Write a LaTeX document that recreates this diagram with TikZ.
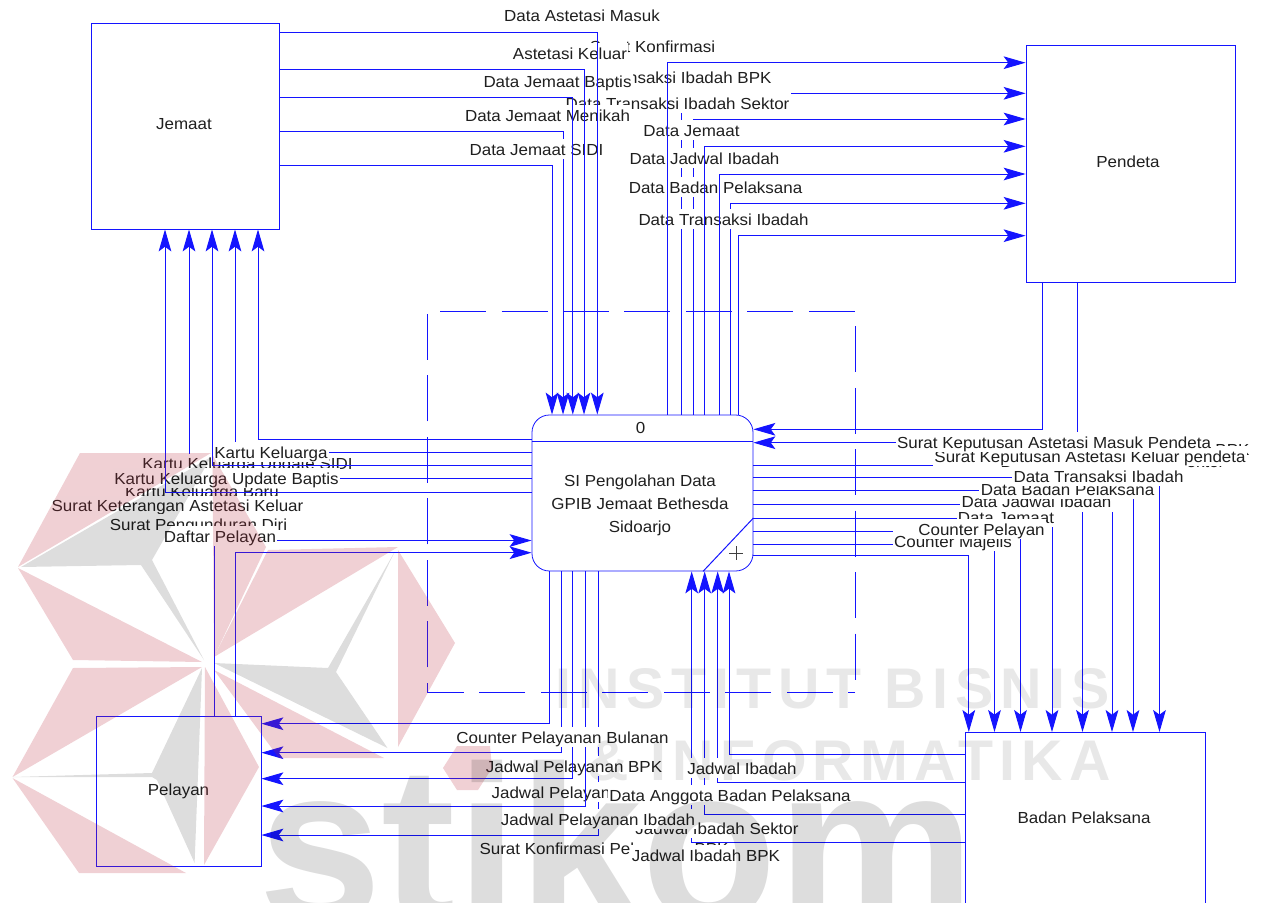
\documentclass[tikz,border=0pt]{standalone}
\usepackage{fontspec}
\usetikzlibrary{arrows.meta}
\setmainfont[FakeStretch=1.06]{Liberation Sans}
\newfontfamily\wmfont{Liberation Sans}
\definecolor{flowblue}{RGB}{20,20,255}
\definecolor{wmpink}{RGB}{185,41,60}
\tikzset{
  x=0.75pt,y=-0.75pt,
  every node/.style={font=\fontsize{12pt}{17pt}\selectfont,text=black!88},
  entity/.style={draw=flowblue,line width=0.6pt,fill=white,inner sep=0pt,align=center},
  flow/.style={draw=flowblue,line width=0.75pt,-{Stealth[length=16.5pt,width=9.5pt,inset=3.5pt]}},
  lab/.style={fill=white,inner xsep=1pt,inner ysep=2.1pt,text height=10pt,text depth=0.8pt},
  pinkpart/.style={fill=wmpink,opacity=0.22},
  graypart/.style={fill=black,opacity=0.135},
  wmtext/.style={text=black,opacity=0.09,inner sep=0pt,anchor=base}
}
\begin{document}
\begin{tikzpicture}
\useasboundingbox (0,0) rectangle (1264,903);
% dashed boundary
\draw[draw=flowblue,line width=0.75pt,dash pattern=on 34.5pt off 11.6pt,dash phase=29.25pt]
  (855,692.5) -- (427.5,692.5) -- (427.5,311) -- (855,311) -- cycle;
% entities
\node[entity,minimum width=141pt,minimum height=154.5pt] (jemaat) at (185,126) {};
\node[inner sep=0pt] (jemaattxt) at (184,124.5) {Jemaat};
\node[entity,minimum width=156.75pt,minimum height=177.75pt] (pendeta) at (1130.5,163.5) {};
\node[inner sep=0pt] (pendetatxt) at (1128,161.5) {Pendeta};
\node[entity,minimum width=123.75pt,minimum height=112.5pt] (pelayan) at (178.5,791.7) {};
\node[inner sep=0pt] (pelayantxt) at (178.5,791) {Pelayan};
\node[entity,minimum width=179.5pt,minimum height=129.4pt] (badan) at (1085.5,818.7) {};
\node[inner sep=0pt] (badantxt) at (1084,817.5) {Badan Pelaksana};
\node[entity,rounded corners=13pt,minimum width=165.75pt,minimum height=117pt] (proc) at (642.5,493) {};
\draw[draw=flowblue,line width=0.75pt] (proc.west |- 0,441) -- (proc.east |- 0,441);
\draw[draw=flowblue,line width=0.75pt] (proc.east |- 0,518) -- (703,0 |- proc.south);
\node[inner sep=0pt] (pnum) at (640.6,427.5) {0};
\node[inner sep=0pt,align=center] (ptxt) at (640,505.5) {SI Pengolahan Data\\GPIB Jemaat Bethesda\\Sidoarjo};
\draw[draw=black!75,line width=0.75pt] (729,553) -- (743,553) (736,546) -- (736,560);
% ---- connectors beneath the labels
\draw[flow] (jemaat.east |- 0,131) -| (563,0 |- proc.north);
\draw[flow] (jemaat.east |- 0,165) -| (552,0 |- proc.north);
\draw[flow] (681.7,0 |- proc.north) |- (pendeta.west |- 0,93.3);
\draw[flow] (693,0 |- proc.north) |- (pendeta.west |- 0,119);
\draw[flow] (730.7,0 |- proc.north) |- (pendeta.west |- 0,203.3);
\draw[flow] (738.7,0 |- proc.north) |- (pendeta.west |- 0,235.7);
\draw[flow] (1042.3,0 |- pendeta.south) |- (proc.east |- 0,429.3);
\draw[flow] (1077.8,0 |- pendeta.south) |- (proc.east |- 0,442.7);
\draw[flow] (proc.east |- 0,465.3) -| (1159.5,0 |- badan.north);
\draw[flow] (proc.east |- 0,477.3) -| (1133,0 |- badan.north);
\draw[flow] (proc.east |- 0,490.7) -| (1112,0 |- badan.north);
\draw[flow] (proc.east |- 0,504.7) -| (1082.5,0 |- badan.north);
\draw[flow] (proc.east |- 0,518) -| (1052,0 |- badan.north);
\draw[flow] (proc.east |- 0,531.7) -| (1020.5,0 |- badan.north);
\draw[flow] (proc.east |- 0,544) -| (994.5,0 |- badan.north);
\draw[flow] (proc.east |- 0,555.7) -| (968.8,0 |- badan.north);
\draw[flow] (proc.west |- 0,439) -| (258,0 |- jemaat.south);
\draw[flow] (proc.west |- 0,452) -| (235,0 |- jemaat.south);
\draw[flow] (proc.west |- 0,478.5) -| (189,0 |- jemaat.south);
\draw[flow] (214,0 |- pelayan.north) |- (proc.west |- 0,540.5);
\draw[flow] (235,0 |- pelayan.north) |- (proc.west |- 0,552.7);
\draw[flow] (549.8,0 |- proc.south) |- (pelayan.east |- 0,723.7);
\draw[flow] (561.3,0 |- proc.south) |- (pelayan.east |- 0,752.7);
\draw[flow] (598.7,0 |- proc.south) |- (pelayan.east |- 0,835);
\node[lab,anchor=west] (l33) at (478,848) {Surat Konfirmasi Pelayanan BPK};
\draw[flow] (badan.west |- 0,842.3) -| (691.7,0 |- proc.south);
\draw[flow] (badan.west |- 0,814.7) -| (704.7,0 |- proc.south);
\draw[flow] (badan.west |- 0,782) -| (717.7,0 |- proc.south);
\draw[flow] (badan.west |- 0,754.5) -| (729,0 |- proc.south);
% ---- labels, later over earlier
\node[lab] (l01) at (582,15) {Data Astetasi Masuk};
\node[lab] (l02) at (652.5,46) {Surat Konfirmasi};
\node[lab] (l03) at (570,53) {Astetasi Keluar};
\node[lab,anchor=east] (l04) at (773,77) {Data Transaksi Ibadah BPK};
\node[lab] (l05) at (557.5,81) {Data Jemaat Baptis};
\node[lab] (l06) at (677.5,103) {Data Transaksi Ibadah Sektor};
\node[lab] (l07) at (547.5,115) {Data Jemaat Menikah};
\node[lab] (l08) at (691.5,130) {Data Jemaat};
\node[lab] (l09) at (536.5,149) {Data Jemaat SIDI};
\node[lab] (l10) at (704.5,158) {Data Jadwal Ibadah};
\node[lab] (l11) at (715.5,187) {Data Badan Pelaksana};
\node[lab] (l12) at (723.5,219) {Data Transaksi Ibadah};
% left
\node[lab] (l13) at (247.5,463.5) {Kartu Keluarga Update SIDI};
\node[lab] (l14) at (271,452) {Kartu Keluarga};
\node[lab] (l15) at (202,491) {Kartu Keluarga Baru};
\node[lab] (l16) at (226.5,478) {Kartu Keluarga Update Baptis};
\node[lab] (l17) at (177.5,505.5) {Surat Keterangan Astetasi Keluar};
\node[lab] (l18) at (198.5,524) {Surat Pengunduran Diri};
\node[lab] (l19) at (220,536) {Daftar Pelayan};
% right
\node[lab,anchor=east] (l20) at (1251,449) {Data Transaksi Ibadah BPK};
\node[lab,anchor=east] (l21) at (1226,461) {Data Transaksi Ibadah Sektor};
\node[lab] (l22) at (953,541) {Counter Majelis};
\node[lab] (l23) at (1006,517) {Data Jemaat};
\node[lab] (l24) at (981.5,529) {Counter Pelayan};
\node[lab] (l25) at (1036.5,501.5) {Data Jadwal Ibadah};
\node[lab] (l26) at (1067.5,489) {Data Badan Pelaksana};
\node[lab] (l27) at (1098.5,476) {Data Transaksi Ibadah};
\node[lab] (l28) at (1090,456) {Surat Keputusan Astetasi Keluar pendeta};
\node[lab] (l29) at (1054,442) {Surat Keputusan Astetasi Masuk Pendeta};
% bottom
\node[lab] (l30) at (574,766) {Jadwal Pelayanan BPK};
\node[lab,anchor=west] (l31) at (490,792) {Jadwal Pelayanan Sektor};
\node[lab] (l34) at (742,768) {Jadwal Ibadah};
\node[lab] (l35) at (730,795) {Data Anggota Badan Pelaksana};
\node[lab] (l36) at (717,828) {Jadwal Ibadah Sektor};
\node[lab] (l32) at (598,819) {Jadwal Pelayanan Ibadah};
\node[lab] (l37) at (706,855) {Jadwal Ibadah BPK};
% ---- connectors over the first labels
\draw[flow] (572.8,0 |- proc.south) |- (pelayan.east |- 0,778.7);
\draw[flow] (585.8,0 |- proc.south) |- (pelayan.east |- 0,806);
\node[lab] (l38) at (562.5,737) {Counter Pelayanan Bulanan};
\draw[flow] (jemaat.east |- 0,32) -| (597.3,0 |- proc.north);
\draw[flow] (jemaat.east |- 0,69.5) -| (584,0 |- proc.north);
\draw[flow] (jemaat.east |- 0,97) -| (572.8,0 |- proc.north);
\draw[flow] (667,0 |- proc.north) |- (pendeta.west |- 0,62.7);
\draw[flow] (704.4,0 |- proc.north) |- (pendeta.west |- 0,146.3);
\draw[flow] (719.4,0 |- proc.north) |- (pendeta.west |- 0,174);
\draw[flow] (proc.west |- 0,465.3) -| (212,0 |- jemaat.south);
\draw[flow] (proc.west |- 0,492) -| (165,0 |- jemaat.south);
% ---- watermark, lying over everything
\fill[pinkpart] (18,567) -- (80,453) -- (211,453) -- cycle;
\fill[pinkpart] (18,568) -- (73,660) -- (202,662) -- cycle;
\fill[pinkpart] (212.5,455) -- (266,547) -- (214,657) -- cycle;
\fill[pinkpart] (268,550) -- (398,547) -- (214,657) -- cycle;
\fill[pinkpart] (398,550) -- (455,643) -- (398,747) -- cycle;
\fill[pinkpart] (214,670) -- (384,758) -- (279,758) -- cycle;
\fill[pinkpart] (73,668) -- (202,667) -- (12.5,777) -- cycle;
\fill[pinkpart] (12.5,778) -- (186,873) -- (79,873) -- cycle;
\fill[pinkpart] (205,667) -- (259,767) -- (204,865) -- cycle;
\fill[pinkpart] (443,768) -- (457,746) -- (490,746) -- (492,768) -- (478,790) -- (457,790) -- cycle;
\fill[graypart] (21,567) -- (211,457) -- (152,560) -- (204,660) -- (141,565) -- cycle;
\fill[graypart] (214,663) -- (328,668) -- (394.6,552) -- (336,672) -- (387.5,748) -- cycle;
\fill[graypart] (12.5,777) -- (152,773) -- (202,668) -- (198,775) -- (194.6,863) -- (157,780) -- (152,777) -- cycle;
\node[wmtext] (wm1) at (833,708) {\wmfont\fontsize{43pt}{43pt}\selectfont\bfseries\addfontfeature{LetterSpace=12}INSTITUT BISNIS};
\node[wmtext] (wm2) at (849,780) {\wmfont\fontsize{43pt}{43pt}\selectfont\bfseries\addfontfeature{LetterSpace=11}\& INFORMATIKA};
\node[wmtext,opacity=0.135] (wm3) at (617,921) {\wmfont\fontsize{167pt}{167pt}\selectfont\bfseries stikom};
\end{tikzpicture}
\end{document}
